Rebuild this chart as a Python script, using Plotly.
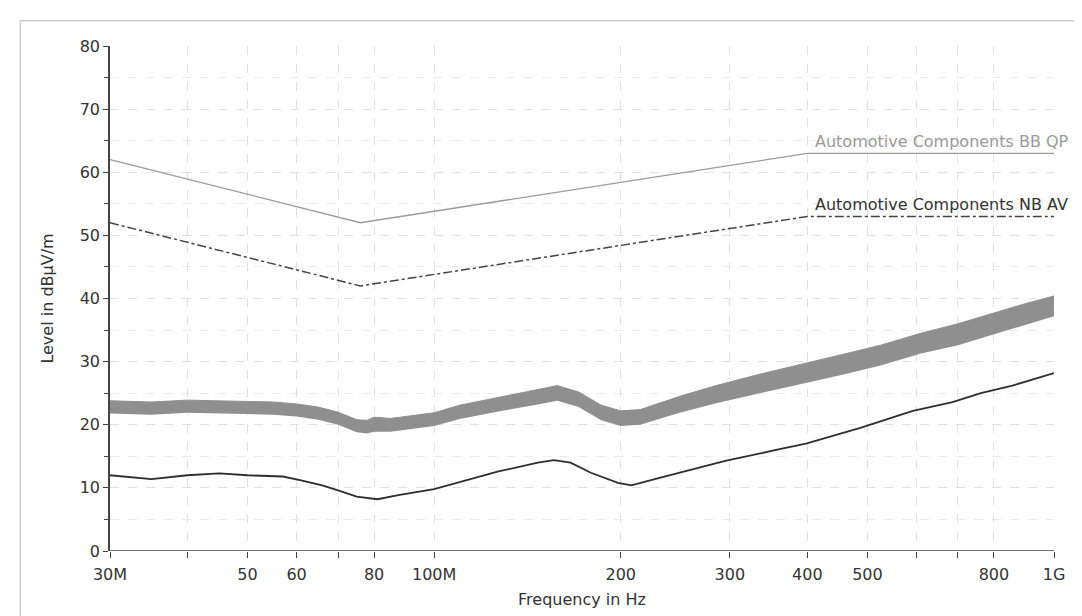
import plotly.graph_objects as go

# frequencies in MHz
limit_freq = [30, 76, 400, 1000]
limit_peak = [62, 52, 63, 63]
limit_avg = [52, 42, 53, 53]

peak_freq = [30, 35, 40, 45, 50, 55, 60, 65, 70, 75, 78, 80, 85, 90, 100, 110, 127, 147, 158, 171,
             186, 200, 215, 249, 285, 335, 390, 454, 525, 610, 700, 800, 900, 1000]
peak_top = [23.8, 23.6, 23.9, 23.8, 23.7, 23.6, 23.3, 22.8, 22.0, 20.8, 20.7, 21.2, 21.0, 21.3, 21.9,
            23.1, 24.3, 25.6, 26.2, 25.2, 23.1, 22.2, 22.4, 24.5, 26.2, 28.0, 29.6, 31.1, 32.6, 34.5,
            36.0, 37.7, 39.2, 40.4]
peak_bottom = [21.8, 21.6, 21.9, 21.8, 21.7, 21.6, 21.3, 20.8, 20.0, 18.8, 18.6, 18.9, 18.9, 19.2, 19.8,
               20.9, 22.1, 23.2, 23.8, 22.8, 20.7, 19.8, 20.0, 21.9, 23.4, 25.0, 26.4, 27.9, 29.4, 31.3,
               32.6, 34.3, 35.8, 37.2]

avg_freq = [30, 35, 40, 45, 50, 57, 61, 66, 70, 75, 81, 88, 100, 114, 127, 147, 156, 166, 179, 198,
            208, 231, 268, 296, 364, 398, 487, 532, 592, 686, 762, 857, 1000]
avg_level = [12.0, 11.4, 12.0, 12.3, 12.0, 11.8, 11.2, 10.4, 9.6, 8.6, 8.2, 8.9, 9.8, 11.4, 12.6, 14.0,
             14.4, 14.0, 12.4, 10.8, 10.4, 11.6, 13.2, 14.3, 16.2, 17.0, 19.5, 20.7, 22.2, 23.6, 25.0,
             26.2, 28.2]

tick_vals = [30, 40, 50, 60, 70, 80, 100, 200, 300, 400, 500, 600, 700, 800, 1000]
tick_text = ["30M", "", "50", "60", "", "80", "100M", "200", "300", "400", "500", "", "", "800", "1G"]

FONT = "DejaVu Sans"
TXT = "#333333"

fig = go.Figure()

# peak scan drawn as a grey band
fig.add_trace(go.Scatter(x=peak_freq, y=peak_bottom, mode="lines", line=dict(width=0, color="#8f8f8f"),
                         showlegend=False, hoverinfo="skip"))
fig.add_trace(go.Scatter(x=peak_freq, y=peak_top, mode="lines", line=dict(width=1, color="#8f8f8f"),
                         fill="tonexty", fillcolor="#8f8f8f", showlegend=False))

fig.add_trace(go.Scatter(x=avg_freq, y=avg_level, mode="lines", line=dict(width=1.8, color="#2e2e2e"),
                         showlegend=False))

fig.add_trace(go.Scatter(x=limit_freq, y=limit_peak, mode="lines", line=dict(width=1.3, color="#9a9a9a"),
                         showlegend=False))
fig.add_trace(go.Scatter(x=limit_freq, y=limit_avg, mode="lines",
                         line=dict(width=1.5, color="#444444", dash="dashdot"), showlegend=False))

fig.add_annotation(x=0.745, xref="paper", y=limit_peak[-1], yref="y", text="Automotive Components BB QP",
                   showarrow=False, xanchor="left", yanchor="bottom",
                   font=dict(family=FONT, size=16, color="#9a9a9a"))
fig.add_annotation(x=0.745, xref="paper", y=limit_avg[-1], yref="y", text="Automotive Components NB AV",
                   showarrow=False, xanchor="left", yanchor="bottom",
                   font=dict(family=FONT, size=16, color=TXT))

# x axis line only from 30M to 1G
fig.add_shape(type="line", x0=30, x1=1000, y0=0, y1=0, xref="x", yref="y",
              line=dict(color="#444444", width=1.5))

# outer frame of the scanned page
fig.add_shape(type="rect", xref="paper", yref="paper", x0=-0.095, x1=1.0275, y0=-0.137, y1=1.05,
              line=dict(color="#cfcfcf", width=1.5))

fig.update_xaxes(type="log", range=[1.4771, 3.0], tickvals=tick_vals, ticktext=tick_text,
                 ticks="outside", ticklen=6, tickcolor="#444444", ticklabelstandoff=3,
                 showline=False, zeroline=False,
                 showgrid=True, gridcolor="#e0e0e0", griddash="dash", gridwidth=1,
                 tickfont=dict(family=FONT, size=16, color=TXT),
                 title=dict(text="Frequency in Hz", standoff=10,
                            font=dict(family=FONT, size=16, color=TXT)))

fig.update_yaxes(range=[0, 80], dtick=10, ticks="outside", ticklen=5, tickcolor="#444444",
                 showline=True, linecolor="#444444", linewidth=1.5, zeroline=False,
                 showgrid=True, gridcolor="#e0e0e0", griddash="dash", gridwidth=1,
                 minor=dict(dtick=5, ticks="outside", ticklen=4, tickcolor="#444444",
                            showgrid=True, gridcolor="#ebebeb", griddash="dash"),
                 tickfont=dict(family=FONT, size=16, color=TXT),
                 title=dict(text="Level in dBµV/m", standoff=22,
                            font=dict(family=FONT, size=16, color=TXT)))

fig.update_layout(width=1082, height=616, paper_bgcolor="white", plot_bgcolor="white",
                  margin=dict(l=102, r=36, t=38, b=73))

fig.write_html("out.html")
